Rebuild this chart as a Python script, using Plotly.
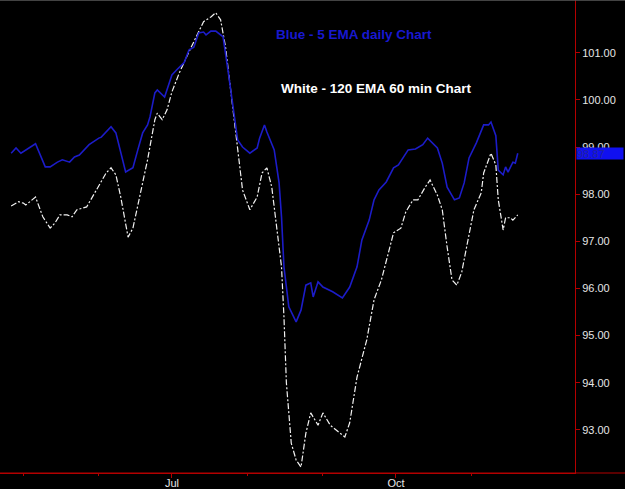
import plotly.graph_objects as go

# ---------------- data ----------------
blue_dates = [
    "2012-04-26", "2012-04-28", "2012-04-30", "2012-05-06", "2012-05-10", "2012-05-12", "2012-05-15", "2012-05-17",
    "2012-05-20", "2012-05-22", "2012-05-24", "2012-05-28", "2012-06-01", "2012-06-02", "2012-06-06", "2012-06-08",
    "2012-06-12", "2012-06-15", "2012-06-17", "2012-06-19", "2012-06-21", "2012-06-22", "2012-06-24", "2012-06-25",
    "2012-06-28", "2012-07-01", "2012-07-03", "2012-07-06", "2012-07-08", "2012-07-10", "2012-07-12", "2012-07-14",
    "2012-07-15", "2012-07-17", "2012-07-19", "2012-07-22", "2012-07-24", "2012-07-26", "2012-07-28", "2012-07-30",
    "2012-08-02", "2012-08-05", "2012-08-06", "2012-08-08", "2012-08-09", "2012-08-12", "2012-08-14", "2012-08-15",
    "2012-08-16", "2012-08-18", "2012-08-21", "2012-08-23", "2012-08-25", "2012-08-27", "2012-08-28", "2012-08-30",
    "2012-09-01", "2012-09-05", "2012-09-07", "2012-09-09", "2012-09-12", "2012-09-15", "2012-09-17", "2012-09-20",
    "2012-09-22", "2012-09-24", "2012-09-27", "2012-09-30", "2012-10-02", "2012-10-06", "2012-10-09", "2012-10-12",
    "2012-10-14", "2012-10-18", "2012-10-20", "2012-10-22", "2012-10-25", "2012-10-27", "2012-10-29", "2012-10-31",
    "2012-11-03", "2012-11-06", "2012-11-08", "2012-11-09", "2012-11-11", "2012-11-12", "2012-11-14", "2012-11-15",
    "2012-11-16", "2012-11-18", "2012-11-19", "2012-11-20",
]
blue_values = [
    98.87, 98.98, 98.87, 99.07, 98.58, 98.58, 98.68, 98.73,
    98.68, 98.79, 98.83, 99.05, 99.19, 99.21, 99.43, 99.30,
    98.47, 98.56, 98.94, 99.30, 99.47, 99.64, 100.15, 100.21,
    100.06, 100.53, 100.64, 100.79, 101.06, 101.12, 101.42, 101.44,
    101.38, 101.46, 101.46, 101.34, 100.64, 99.94, 99.15, 99.00,
    98.87, 98.98, 99.19, 99.47, 99.32, 98.94, 98.24, 97.52,
    96.46, 95.61, 95.29, 95.54, 96.07, 96.12, 95.82, 96.14,
    96.03, 95.93, 95.86, 95.80, 96.03, 96.46, 97.03, 97.45,
    97.88, 98.09, 98.26, 98.56, 98.62, 98.94, 98.96, 99.05,
    99.19, 98.98, 98.66, 98.15, 97.88, 97.92, 98.24, 98.77,
    99.09, 99.47, 99.47, 99.53, 99.24, 98.51, 98.41, 98.58,
    98.47, 98.68, 98.66, 98.87,
]

white_dates = [
    "2012-04-26", "2012-04-29", "2012-05-01", "2012-05-02", "2012-05-06", "2012-05-09", "2012-05-12", "2012-05-14",
    "2012-05-16", "2012-05-19", "2012-05-21", "2012-05-23", "2012-05-27", "2012-05-31", "2012-06-04", "2012-06-06",
    "2012-06-08", "2012-06-10", "2012-06-13", "2012-06-15", "2012-06-18", "2012-06-21", "2012-06-24", "2012-06-25",
    "2012-06-27", "2012-06-29", "2012-07-01", "2012-07-04", "2012-07-08", "2012-07-12", "2012-07-14", "2012-07-17",
    "2012-07-19", "2012-07-21", "2012-07-23", "2012-07-24", "2012-07-26", "2012-07-28", "2012-07-30", "2012-08-02",
    "2012-08-05", "2012-08-07", "2012-08-09", "2012-08-11", "2012-08-13", "2012-08-15", "2012-08-16", "2012-08-17",
    "2012-08-19", "2012-08-21", "2012-08-23", "2012-08-25", "2012-08-27", "2012-08-30", "2012-09-01", "2012-09-04",
    "2012-09-08", "2012-09-10", "2012-09-12", "2012-09-15", "2012-09-19", "2012-09-22", "2012-09-25", "2012-09-28",
    "2012-09-30", "2012-10-03", "2012-10-05", "2012-10-08", "2012-10-10", "2012-10-13", "2012-10-15", "2012-10-18",
    "2012-10-20", "2012-10-22", "2012-10-24", "2012-10-26", "2012-10-28", "2012-10-30", "2012-11-02", "2012-11-05",
    "2012-11-06", "2012-11-09", "2012-11-11", "2012-11-12", "2012-11-14", "2012-11-15", "2012-11-17", "2012-11-18",
    "2012-11-20",
]
white_values = [
    97.75, 97.84, 97.81, 97.77, 97.94, 97.52, 97.28, 97.39,
    97.56, 97.56, 97.52, 97.67, 97.73, 98.09, 98.45, 98.56,
    98.41, 97.94, 97.09, 97.28, 98.03, 98.73, 99.58, 99.72,
    99.58, 99.79, 100.17, 100.57, 101.02, 101.44, 101.66, 101.76,
    101.85, 101.70, 101.13, 100.70, 99.85, 98.87, 98.09, 97.67,
    97.94, 98.45, 98.56, 98.15, 97.30, 96.46, 95.40, 94.00,
    92.72, 92.36, 92.21, 92.93, 93.36, 93.10, 93.36, 93.10,
    92.93, 92.85, 93.15, 94.12, 94.91, 95.76, 96.18, 96.82,
    97.18, 97.28, 97.62, 97.88, 97.88, 98.15, 98.30, 97.98,
    97.67, 96.88, 96.18, 96.07, 96.35, 96.88, 97.67, 98.03,
    98.45, 98.87, 98.62, 97.88, 97.24, 97.50, 97.50, 97.45,
    97.56,
]

y_ticks = [93, 94, 95, 96, 97, 98, 99, 100, 101]
x_major_ticks = ["2012-07-01", "2012-10-01"]
x_major_labels = ["Jul", "Oct"]
x_minor_ticks = ["2012-05-01", "2012-06-01", "2012-08-01", "2012-09-01", "2012-11-01"]
last_value_label = "98.87"

title_blue = "Blue - 5 EMA daily Chart"
title_white = "White - 120 EMA 60 min Chart"

# ---------------- figure ----------------
RED = "#b40000"
FONT = "Arial, Liberation Sans, sans-serif"
fig = go.Figure()
fig.add_trace(go.Scatter(
    x=white_dates, y=white_values, mode="lines",
    line=dict(color="#f2f2f2", width=1.2, dash="6px,2px,2px,2px"),
    showlegend=False, hoverinfo="skip",
))
fig.add_trace(go.Scatter(
    x=blue_dates, y=blue_values, mode="lines",
    line=dict(color="#1c1cc8", width=1.6),
    showlegend=False, hoverinfo="skip",
))

W, H = 625, 489
ml, mr, mt, mb = 0, 50, 0, 16
fig.update_layout(
    width=W, height=H,
    margin=dict(l=ml, r=mr, t=mt, b=mb, pad=0, autoexpand=False),
    paper_bgcolor="black", plot_bgcolor="black",
    font=dict(family=FONT, size=11, color="#e6e6e6"),
    xaxis=dict(
        type="date",
        range=["2012-04-21 10:00", "2012-12-13 12:00"],
        showgrid=False, zeroline=False, automargin=False,
        showline=True, linecolor=RED, linewidth=1,
        ticks="outside", ticklen=4, tickcolor=RED, tickwidth=1,
        ticklabelstandoff=-4,
        tickmode="array", tickvals=x_major_ticks, ticktext=x_major_labels,
        tickfont=dict(size=11, color="#e6e6e6"),
        minor=dict(tickmode="array", tickvals=x_minor_ticks, ticks="outside",
                   ticklen=2, tickcolor=RED, showgrid=False),
        fixedrange=True,
    ),
    yaxis=dict(
        side="right",
        range=[92.085, 102.12],
        showgrid=False, zeroline=False, automargin=False,
        showline=True, linecolor=RED, linewidth=1,
        ticks="outside", ticklen=4, tickcolor=RED,
        tickmode="array", tickvals=y_ticks,
        tickformat=".2f",
        tickfont=dict(size=11, color="#e6e6e6"),
        fixedrange=True,
    ),
)

pw = W - ml - mr
ph = H - mt - mb

# x axis line runs across the full window width
fig.add_shape(type="line", xref="paper", yref="paper",
              x0=0, x1=W / pw, y0=0, y1=0,
              line=dict(color=RED, width=1.2))
# thin grey frame line at the very top
fig.add_shape(type="line", xref="paper", yref="paper",
              x0=0, x1=W / pw, y0=1, y1=1,
              line=dict(color="#5a5a5a", width=1.5))

fig.add_annotation(text=f"<b>{title_blue}</b>", xref="paper", yref="paper",
                   x=274 / pw, y=1 - 34 / ph, xanchor="left", yanchor="middle",
                   showarrow=False, font=dict(size=13.5, color="#1818d0", family=FONT))
fig.add_annotation(text=f"<b>{title_white}</b>", xref="paper", yref="paper",
                   x=279 / pw, y=1 - 88 / ph, xanchor="left", yanchor="middle",
                   showarrow=False, font=dict(size=13.5, color="#ffffff", family=FONT))

fig.add_annotation(text=last_value_label, xref="paper", yref="y",
                   x=1 + 1 / pw, y=blue_values[-1], xanchor="left", yanchor="middle",
                   showarrow=False, bgcolor="#1010f0", width=46, height=11,
                   align="left", borderpad=0,
                   font=dict(size=11, color="#23239c", family=FONT))

fig.write_html("out.html")
